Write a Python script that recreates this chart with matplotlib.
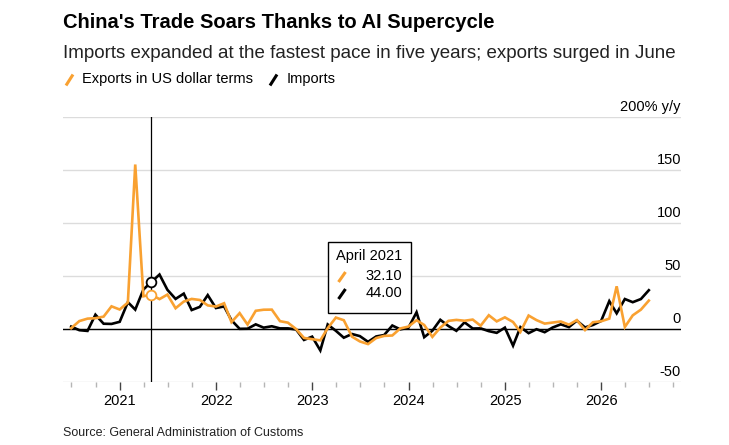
import matplotlib
matplotlib.use('Agg')
import matplotlib.pyplot as plt
import matplotlib.dates as mdates
import matplotlib.transforms as mtransforms
from matplotlib.lines import Line2D
from matplotlib.patches import Rectangle
import pandas as pd

plt.rcParams['font.family'] = ['Liberation Sans', 'DejaVu Sans']

# Monthly y/y change, June 2020 to June 2026.
datas = pd.date_range('2020-06-30', periods=73, freq='ME')

exportacoes = [
    0.5, 7.2, 9.5, 9.9, 11.4, 21.1, 18.1,
    24.7, 154.9, 30.6, 32.1, 27.9, 32.2, 19.3, 25.6, 28.1, 27.1, 22.0, 20.9,
    24.0, 6.2, 14.7, 3.9, 16.9, 17.9, 18.0, 7.1, 5.7, -0.3, -8.7, -9.9,
    -11.0, 0.5, 10.5, 8.0, -7.5, -12.0, -14.5, -8.8, -6.8, -6.4, 0.2, 2.0,
    8.0, 3.5, -7.7, 1.0, 7.4, 8.3, 7.5, 8.6, 2.8, 12.7, 6.9, 10.7,
    6.3, -3.0, 12.4, 8.1, 4.8, 5.8, 6.8, 3.8, 8.1, -1.3, 6.1, 7.0,
    9.5, 40.0, 1.6, 12.6, 18.0, 26.5,
]
importacoes = [
    2.0, -1.4, -2.1, 13.2, 4.7, 4.5, 6.5,
    25.0, 18.0, 37.0, 44.0, 51.1, 36.7, 28.1, 33.1, 17.6, 20.6, 31.7, 19.5,
    21.0, 8.0, -0.1, 0.0, 4.1, 1.0, 2.3, 0.3, 0.3, -0.7, -10.6, -7.5,
    -20.5, 4.0, -2.0, -8.5, -5.0, -7.0, -12.4, -7.3, -6.0, 3.0, -0.6, 0.8,
    15.5, -8.0, -1.9, 8.4, 2.5, -2.0, 6.0, 0.2, 0.3, -2.3, -3.9, 1.0,
    -16.0, 1.5, -4.2, -0.5, -3.3, 1.1, 4.1, 1.5, 7.6, 1.2, 3.5, 7.3,
    26.0, 14.5, 28.0, 25.0, 28.0, 36.3,
]

niveis = [-50, 0, 50, 100, 150, 200]
rotulos = ['-50', '0', '50', '100', '150', '200% y/y']

destaque = 10  # April 2021

laranja = '#f9a131'
W, H = 729, 445

fig = plt.figure(figsize=(W / 100, H / 100), dpi=100)
ax = fig.add_axes([63 / W, 1 - 381.7 / H, (681 - 63) / W, (381.7 - 116.7) / H])


def fx(x):
    return x / W


def fy(y):
    return 1 - y / H


# Linhas de grade e zero.
ax.set_ylim(-50, 200)
ax.set_yticks(niveis)
ax.yaxis.set_tick_params(length=0, labelleft=False, labelright=False)
ax.grid(axis='y', color='#dcdcdc', linewidth=1.0)
ax.axhline(0, color='black', linewidth=1.0, zorder=2)
for s in ax.spines.values():
    s.set_visible(False)

ax.set_xlim(mdates.date2num(pd.Timestamp('2020-05-30')),
            mdates.date2num(pd.Timestamp('2026-10-30')))
ax.xaxis.set_major_locator(mdates.YearLocator())
ax.xaxis.set_major_formatter(mdates.DateFormatter('%Y'))
ax.xaxis.set_minor_locator(mdates.MonthLocator(bymonth=[4, 7, 10]))
ax.tick_params(axis='x', which='major', length=6, width=1, color='#444444',
               labelsize=10.5, pad=3)
ax.tick_params(axis='x', which='minor', length=3.5, width=1, color='#b5b5b5')

# Series.
ax.plot(datas, exportacoes, color=laranja, linewidth=1.9, zorder=4,
        solid_joinstyle='miter')
ax.plot(datas, importacoes, color='black', linewidth=1.9, zorder=3,
        solid_joinstyle='miter')

# Linha vertical e marcadores do destaque.
ax.axvline(datas[destaque], color='black', linewidth=0.9, zorder=5)
ax.plot([datas[destaque]], [importacoes[destaque]], 'o', ms=7, mfc='white',
        mec='black', mew=1.3, zorder=6)
ax.plot([datas[destaque]], [exportacoes[destaque]], 'o', ms=7, mfc='white',
        mec=laranja, mew=1.3, zorder=6)

# Rotulos do eixo y, dentro do grafico.
trans = mtransforms.blended_transform_factory(ax.transAxes, ax.transData)
trans = mtransforms.offset_copy(trans, fig=fig, y=6, units='dots')
for v, r in zip(niveis, rotulos):
    ax.text(1.0, v, r, transform=trans, ha='right', va='baseline',
            fontsize=10.5, color='black')

# Titulo, subtitulo e legenda.
fig.text(fx(63), fy(22), "China's Trade Soars Thanks to AI Supercycle",
         fontsize=14.5, fontweight='bold', va='center', ha='left')
fig.text(fx(63), fy(53),
         'Imports expanded at the fastest pace in five years; exports surged in June',
         fontsize=13.5, va='center', ha='left', color='#222222')


def barra(x, y, cor):
    fig.add_artist(Line2D([fx(x - 3.5), fx(x + 3.5)], [fy(y + 5.5), fy(y - 5.5)],
                          color=cor, linewidth=2.2, solid_capstyle='butt'))


barra(69.5, 80, laranja)
fig.text(fx(82), fy(79), 'Exports in US dollar terms', fontsize=10.5, va='center')
barra(273.5, 80, 'black')
fig.text(fx(287), fy(79), 'Imports', fontsize=10.5, va='center')

# Caixa do destaque.
caixa = Rectangle((fx(327.5), fy(313)), fx(411) - fx(327.5), fy(242) - fy(313),
                  transform=fig.transFigure, facecolor='white',
                  edgecolor='black', linewidth=1.0, zorder=7)
fig.patches.append(caixa)
fig.text(fx(336), fy(256), datas[destaque].strftime('%B %Y'), fontsize=10.5,
         va='center', zorder=8)
for yy, cor, val in [(277, laranja, exportacoes[destaque]),
                     (294, 'black', importacoes[destaque])]:
    l = Line2D([fx(338.5), fx(345.5)], [fy(yy + 5), fy(yy - 5)], color=cor,
               linewidth=2.2, solid_capstyle='butt', zorder=8)
    fig.add_artist(l)
    fig.text(fx(402), fy(yy - 1), f'{val:.2f}', fontsize=10.5, va='center',
             ha='right', zorder=8)

fig.text(fx(63), fy(433), 'Source: General Administration of Customs',
         fontsize=9, va='center', color='#222222')

plt.savefig('out.png', dpi=100)
